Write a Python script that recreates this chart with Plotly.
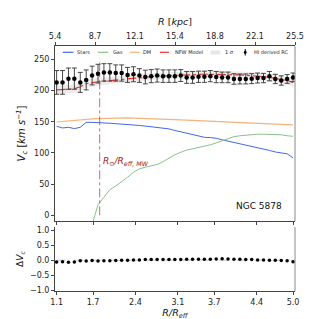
import plotly.graph_objects as go

# ---------------- data ----------------
r_reff = [1.1, 1.1975, 1.295, 1.3925, 1.49, 1.5875, 1.685, 1.7825, 1.88, 1.9775,
          2.075, 2.1725, 2.27, 2.3675, 2.465, 2.5625, 2.66, 2.7575, 2.855, 2.9525,
          3.05, 3.1475, 3.245, 3.3425, 3.44, 3.5375, 3.635, 3.7325, 3.83, 3.9275,
          4.025, 4.1225, 4.22, 4.3175, 4.415, 4.5125, 4.61, 4.7075, 4.805, 4.9025, 5.0]

v_obs = [213, 213, 219, 219, 213, 217, 224, 227, 229, 229,
         228, 228, 225, 226, 224, 221.6, 223, 224, 223, 223,
         223, 224, 221, 221, 222, 222, 223, 221.5, 221, 221,
         218.5, 218.5, 218.5, 219, 220, 220, 223, 218.5, 216, 218.5, 221]

v_err = [19, 19, 17, 17, 16, 16, 15, 15, 14, 14,
         13, 13, 12, 12, 11, 11, 10.5, 10.5, 10, 10,
         10, 9.5, 9.5, 9.5, 9, 9, 9, 9, 8.5, 8.5,
         8.5, 8, 8, 8, 8, 7.5, 7.5, 7.5, 7.5, 7, 7]

v_nfw = [201, 201, 202, 203, 206, 211, 213, 214, 215, 216,
         217, 218, 219, 220, 221, 222, 222.5, 223, 223.5, 224,
         224.5, 225, 225, 225.5, 225.5, 226, 226, 226, 226, 226,
         225.5, 225, 224.5, 224, 223, 222, 221, 219.5, 218, 216, 213]

nfw_sigma = [7, 7, 7, 7, 7, 6.5, 6.5, 6.5, 6, 6,
             6, 6, 5.5, 5.5, 5.5, 5.5, 5.5, 5.5, 5.5, 5.5,
             5.5, 5.5, 5.5, 5.5, 5.5, 5.5, 5.5, 5.5, 5.5, 5.5,
             5.5, 5.5, 5.5, 6, 6, 6, 6, 6.5, 6.5, 7, 7]

v_stars = [142.6, 140, 141, 139, 141, 149, 149, 148, 148, 147.5,
           147, 146, 145.5, 144.5, 144, 143, 142, 141, 140, 138.5,
           136, 134, 132, 130, 127, 125, 124.5, 123.5, 121, 119,
           116.5, 115, 113, 111, 109, 106.5, 104, 101.5, 100, 98.5, 92]

v_gas = [None, None, None, None, None, None, -15, 17, 29, 41,
         47, 53.5, 61, 69, 74.5, 77, 79, 81.5, 86, 92,
         97, 101, 104.5, 106.5, 108.5, 110.5, 113, 116, 119, 122,
         126, 127.5, 128.5, 129.5, 130, 130, 130, 130, 129, 127.5, 126.6]

v_dm = [149.5, 150.5, 151.5, 152.5, 153.3, 154, 154.6, 155, 155.4, 155.7,
        156, 156, 156, 155.8, 155.6, 155.3, 155, 154.6, 154.2, 153.8,
        153.4, 153, 152.5, 152, 151.5, 151, 150.6, 150.2, 149.8, 149.4,
        149, 148.6, 148.2, 147.8, 147.4, 147, 146.6, 146.2, 145.8, 145.4, 145]

dv = [-0.06, -0.05, -0.07, -0.06, -0.02, -0.03, -0.01, -0.03, -0.02, -0.02,
      -0.01, 0.0, 0.0, 0.01, 0.01, 0.02, 0.02, 0.02, 0.02, 0.02,
      0.02, 0.02, 0.03, 0.03, 0.03, 0.03, 0.03, 0.04, 0.05, 0.04,
      0.03, 0.03, 0.02, 0.02, 0.01, 0.01, 0.0, 0.0, -0.01, -0.02, -0.05]

r_sun_ratio = 1.81
galaxy = "NGC 5878"

bottom_ticks = [1.1, 1.7, 2.4, 3.1, 3.7, 4.4, 5.0]
bottom_ticktext = ["1.1", "1.7", "2.4", "3.1", "3.7", "4.4", "5.0"]
top_ticks = [5.4, 8.75, 12.1, 15.45, 18.8, 22.15, 25.5]
top_ticktext = ["5.4", "8.7", "12.1", "15.4", "18.8", "22.1", "25.5"]
main_yticks = [0, 50, 100, 150, 200, 250]
res_yticks = [-1.0, -0.5, 0.0, 0.5, 1.0]
res_ticktext = ["\u22121.0", "\u22120.5", "0.0", "0.5", "1.0"]

# ---------------- style ----------------
C_STARS = "#4169e1"
C_GAS = "#8cc08c"
C_DM = "#f5b27a"
C_NFW = "#e8322e"
C_BAND = "rgba(200,200,200,0.35)"
FONT = "DejaVu Sans"

fig = go.Figure()

upper = [m + s for m, s in zip(v_nfw, nfw_sigma)]
lower = [m - s for m, s in zip(v_nfw, nfw_sigma)]
fig.add_trace(go.Scatter(x=r_reff, y=upper, mode="lines", line=dict(width=0),
                         showlegend=False, hoverinfo="skip", xaxis="x", yaxis="y"))
fig.add_trace(go.Scatter(x=r_reff, y=lower, mode="lines", line=dict(width=0),
                         fill="tonexty", fillcolor=C_BAND,
                         showlegend=False, hoverinfo="skip", xaxis="x", yaxis="y"))

fig.add_trace(go.Scatter(x=r_reff, y=v_stars, mode="lines",
                         line=dict(color=C_STARS, width=1), xaxis="x", yaxis="y"))
fig.add_trace(go.Scatter(x=r_reff, y=v_gas, mode="lines",
                         line=dict(color=C_GAS, width=1), xaxis="x", yaxis="y"))
fig.add_trace(go.Scatter(x=r_reff, y=v_dm, mode="lines",
                         line=dict(color=C_DM, width=1.2), xaxis="x", yaxis="y"))
fig.add_trace(go.Scatter(x=r_reff, y=v_nfw, mode="lines",
                         line=dict(color=C_NFW, width=1.2, dash="dashdot"),
                         xaxis="x", yaxis="y"))
fig.add_trace(go.Scatter(x=r_reff, y=v_obs, mode="markers",
                         marker=dict(color="black", size=4.5),
                         error_y=dict(type="data", array=v_err, color="#333",
                                      thickness=0.9, width=2.5),
                         xaxis="x", yaxis="y"))

# invisible trace for the top kpc axis
fig.add_trace(go.Scatter(x=[top_ticks[0], top_ticks[-1]], y=[None, None],
                         mode="markers", showlegend=False, hoverinfo="skip",
                         xaxis="x3", yaxis="y"))

# residuals
fig.add_trace(go.Scatter(x=[r_reff[0], r_reff[-1]], y=[0, 0], mode="lines",
                         line=dict(color="#bbbbbb", width=0.8, dash="dash"),
                         showlegend=False, hoverinfo="skip", xaxis="x2", yaxis="y2"))
fig.add_trace(go.Scatter(x=r_reff, y=dv, mode="markers",
                         marker=dict(color="black", size=3.5),
                         xaxis="x2", yaxis="y2"))

# vertical reference line
fig.add_shape(type="line", xref="x", yref="y", x0=r_sun_ratio, x1=r_sun_ratio,
              y0=0, y1=250, line=dict(color="#a83232", width=0.7, dash="dashdot"))

L, R, T, B = 40, 32, 38, 36
W = H = 319
PW, PH = W - L - R, H - T - B


def px(x):
    return (x - L) / PW


def py(y):
    return (H - B - y) / PH


main_dom = [py(213), 1.0]
res_dom = [0.0, py(219)]

axis_common = dict(showgrid=False, zeroline=False, showline=True, linecolor="#444",
                   linewidth=1, ticks="outside", ticklen=3, tickcolor="#444",
                   tickfont=dict(family=FONT, size=8, color="#222"), mirror=False)

fig.update_layout(
    width=W, height=H, margin=dict(l=L, r=R, t=T, b=B, pad=0),
    paper_bgcolor="white", plot_bgcolor="white", showlegend=False,
    xaxis=dict(axis_common, range=[1.073, 5.032], domain=[0, 1], anchor="y",
               tickvals=bottom_ticks, showticklabels=False),
    yaxis=dict(axis_common, range=[-9.1, 271.3], domain=main_dom, anchor="x",
               tickvals=main_yticks,
               title=dict(text="<i>V<sub>c</sub></i> [<i>km s<sup>\u22121</sup></i>]",
                          font=dict(family=FONT, size=10, color="#111"), standoff=6)),
    xaxis3=dict(axis_common, range=[5.4, 25.5], overlaying="x", side="top",
                anchor="y", tickvals=top_ticks, ticktext=top_ticktext,
                title=dict(text="<i>R</i> [<i>kpc</i>]",
                           font=dict(family=FONT, size=9.5, color="#111"), standoff=4)),
    xaxis2=dict(axis_common, range=[1.073, 5.032], domain=[0, 1], anchor="y2",
                tickvals=bottom_ticks, ticktext=bottom_ticktext,
                title=dict(text="<i>R/R<sub>eff</sub></i>",
                           font=dict(family=FONT, size=9.5, color="#111"), standoff=2)),
    yaxis2=dict(axis_common, range=[-1.02, 1.1], domain=res_dom, anchor="x2",
                tickvals=res_yticks, ticktext=res_ticktext,
                title=dict(text="\u0394<i>V<sub>c</sub></i>",
                           font=dict(family=FONT, size=9, color="#111"), standoff=4)),
)

# right / top spines
fig.add_shape(type="line", xref="paper", yref="paper", x0=1, x1=1,
              y0=main_dom[0], y1=1, line=dict(color="#888", width=1))
fig.add_shape(type="line", xref="paper", yref="paper", x0=1, x1=1,
              y0=res_dom[0], y1=res_dom[1], line=dict(color="#888", width=1))

# manual legend
ly = py(44.3)
LF = dict(family=FONT, size=5, color="#222")
leg_lines = [
    (48, 59, C_STARS, "solid", "Stars", 61),
    (84, 95, C_GAS, "solid", "Gas", 98),
    (117, 127, C_DM, "solid", "DM", 129),
    (148, 159, C_NFW, "dashdot", "NFW Model", 161),
]
for x0, x1, col, dash, txt, tx in leg_lines:
    fig.add_shape(type="line", xref="paper", yref="paper", x0=px(x0), x1=px(x1),
                  y0=ly, y1=ly, line=dict(color=col, width=1.2, dash=dash))
    fig.add_annotation(x=px(tx), y=ly, xref="paper", yref="paper", text=txt,
                       showarrow=False, xanchor="left", yanchor="middle", font=LF)
fig.add_shape(type="rect", xref="paper", yref="paper", x0=px(200), x1=px(210),
              y0=py(46.5), y1=py(42.5), fillcolor="rgba(200,200,200,0.45)",
              line=dict(width=0))
fig.add_annotation(x=px(213), y=ly, xref="paper", yref="paper", text="1 <i>\u03c3</i>",
                   showarrow=False, xanchor="left", yanchor="middle", font=LF)
fig.add_shape(type="circle", xref="paper", yref="paper", x0=px(234.3), x1=px(237.3),
              y0=py(45.8), y1=py(42.8), fillcolor="black", line=dict(width=0))
fig.add_shape(type="line", xref="paper", yref="paper", x0=px(235.8), x1=px(235.8),
              y0=py(47.5), y1=py(41), line=dict(color="black", width=1))
fig.add_annotation(x=px(243), y=ly, xref="paper", yref="paper", text="HI derived RC",
                   showarrow=False, xanchor="left", yanchor="middle", font=LF)

# text annotations
fig.add_annotation(x=px(250), y=py(198), xref="paper", yref="paper", text=galaxy,
                   showarrow=False, xanchor="center", yanchor="middle",
                   font=dict(family=FONT, size=9, color="#111"))
fig.add_annotation(x=px(87), y=py(153), xref="paper", yref="paper",
                   text="<i>R<sub>\u2299</sub>/R<sub>eff, MW</sub></i>",
                   showarrow=False, xanchor="left", yanchor="middle",
                   font=dict(family=FONT, size=9, color="#a02020"))

fig.write_html("out.html")
